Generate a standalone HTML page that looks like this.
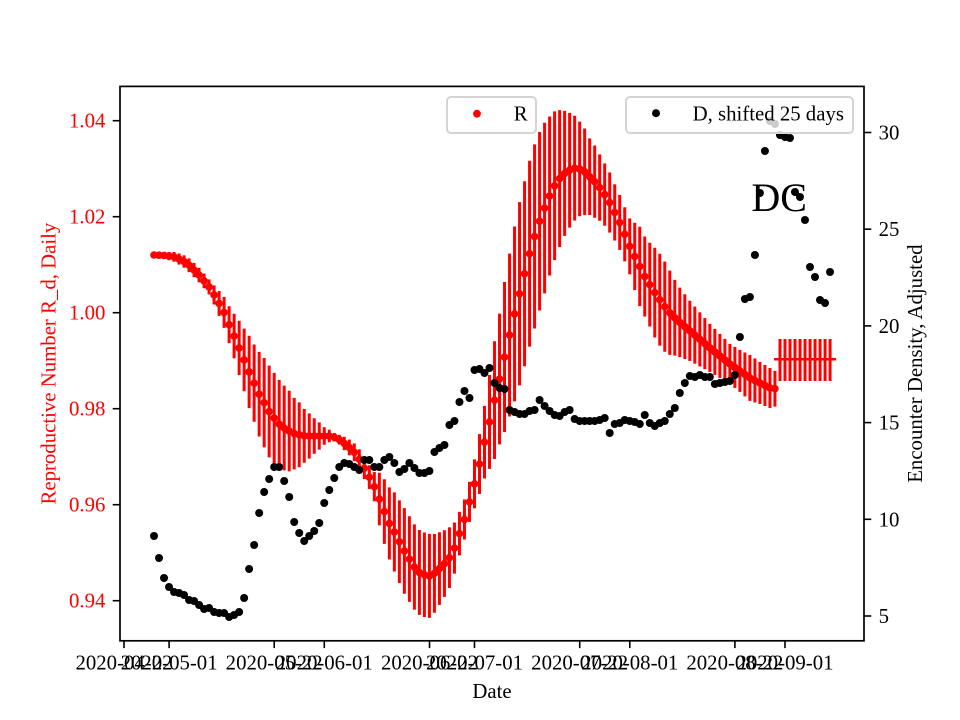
<!DOCTYPE html>
<html>
<head>
<meta charset="utf-8">
<style>
html,body{margin:0;padding:0;background:#fff;}
svg{display:block;}
text{font-family:"Liberation Serif","DejaVu Serif",serif;font-size:20.8px;}
</style>
</head>
<body>
<svg id="chart" width="960" height="720" viewBox="0 0 960 720" xmlns="http://www.w3.org/2000/svg">
<rect x="0" y="0" width="960" height="720" fill="#ffffff"/>

<!-- red series (left axis) -->
<g id="redbars" stroke="#ff0000" stroke-width="3"></g>
<g id="reddots" fill="#ff0000"></g>
<g id="flat" stroke="#ff0000">
  <line x1="774" y1="359.3" x2="836" y2="359.3" stroke-width="2.5"/>
</g>

<!-- legend R (belongs to left axis) -->
<rect x="447" y="97" width="89" height="36" rx="4" ry="4" fill="#ffffff" fill-opacity="0.8" stroke="#d4d4d4" stroke-width="2"/>
<circle cx="477" cy="113.7" r="3.9" fill="#ff0000"/>
<text x="513.7" y="120.5" fill="#000">R</text>

<!-- black series (right axis) -->
<g id="blackdots" fill="#000000"></g>

<!-- legend D -->
<rect x="626" y="97" width="227" height="36" rx="4" ry="4" fill="#ffffff" fill-opacity="0.8" stroke="#d4d4d4" stroke-width="2"/>
<circle cx="656" cy="113.2" r="4" fill="#000"/>
<text x="692.6" y="120.5" fill="#000">D, shifted 25 days</text>

<!-- title -->
<text x="779.2" y="211" text-anchor="middle" style="font-size:40px" fill="#000">DC</text>

<!-- spines -->
<rect x="120" y="86.4" width="744" height="554.4" fill="none" stroke="#000" stroke-width="1.7"/>

<!-- x ticks -->
<g stroke="#000" stroke-width="1.6">
  <line x1="124" y1="640.8" x2="124" y2="648.1"/>
  <line x1="169.1" y1="640.8" x2="169.1" y2="648.1"/>
  <line x1="274.2" y1="640.8" x2="274.2" y2="648.1"/>
  <line x1="324.3" y1="640.8" x2="324.3" y2="648.1"/>
  <line x1="429.5" y1="640.8" x2="429.5" y2="648.1"/>
  <line x1="474.5" y1="640.8" x2="474.5" y2="648.1"/>
  <line x1="579.7" y1="640.8" x2="579.7" y2="648.1"/>
  <line x1="629.8" y1="640.8" x2="629.8" y2="648.1"/>
  <line x1="734.9" y1="640.8" x2="734.9" y2="648.1"/>
  <line x1="785" y1="640.8" x2="785" y2="648.1"/>
</g>
<g fill="#000" text-anchor="middle">
  <text x="124" y="669.6">2020-04-22</text>
  <text x="169.1" y="669.6">2020-05-01</text>
  <text x="274.2" y="669.6">2020-05-22</text>
  <text x="324.3" y="669.6">2020-06-01</text>
  <text x="429.5" y="669.6">2020-06-22</text>
  <text x="474.5" y="669.6">2020-07-01</text>
  <text x="579.7" y="669.6">2020-07-22</text>
  <text x="629.8" y="669.6">2020-08-01</text>
  <text x="734.9" y="669.6">2020-08-22</text>
  <text x="785" y="669.6">2020-09-01</text>
  <text x="492" y="698">Date</text>
</g>

<!-- left y ticks -->
<g stroke="#000" stroke-width="1.6">
  <line x1="112.7" y1="120.7" x2="120" y2="120.7"/>
  <line x1="112.7" y1="216.7" x2="120" y2="216.7"/>
  <line x1="112.7" y1="312.7" x2="120" y2="312.7"/>
  <line x1="112.7" y1="408.7" x2="120" y2="408.7"/>
  <line x1="112.7" y1="504.7" x2="120" y2="504.7"/>
  <line x1="112.7" y1="600.7" x2="120" y2="600.7"/>
</g>
<g fill="#ff0000" text-anchor="end">
  <text x="105.4" y="127.7">1.04</text>
  <text x="105.4" y="223.7">1.02</text>
  <text x="105.4" y="319.7">1.00</text>
  <text x="105.4" y="415.7">0.98</text>
  <text x="105.4" y="511.7">0.96</text>
  <text x="105.4" y="607.7">0.94</text>
</g>
<text transform="translate(55.5,363.6) rotate(-90)" text-anchor="middle" fill="#ff0000">Reproductive Number R_d, Daily</text>

<!-- right y ticks -->
<g stroke="#000" stroke-width="1.6">
  <line x1="864" y1="616" x2="871.3" y2="616"/>
  <line x1="864" y1="519.3" x2="871.3" y2="519.3"/>
  <line x1="864" y1="422.6" x2="871.3" y2="422.6"/>
  <line x1="864" y1="325.9" x2="871.3" y2="325.9"/>
  <line x1="864" y1="229.2" x2="871.3" y2="229.2"/>
  <line x1="864" y1="132.5" x2="871.3" y2="132.5"/>
</g>
<g fill="#000" text-anchor="start">
  <text x="878.6" y="623">5</text>
  <text x="878.6" y="526.3">10</text>
  <text x="878.6" y="429.6">15</text>
  <text x="878.6" y="332.9">20</text>
  <text x="878.6" y="236.2">25</text>
  <text x="878.6" y="139.5">30</text>
</g>
<text transform="translate(922,363.6) rotate(-90)" text-anchor="middle" fill="#000">Encounter Density, Adjusted</text>
</svg>

<script>
(function(){
var C=[[154,255],[165,255.5],[175,257],[185,262],[190,266],[200,276],[210,288],[220,305],[225,314],[230,327],[235,338],[240,350],[245,362],[250,374],[255,385],[260,396],[265,404],[270,413],[275,419],[280,425],[287,430],[295,434],[305,436],[320,436],[330,436],[337,438],[345,444],[350,448],[357,455],[362,464],[367,473],[372,482],[377,492],[381,504],[385,513],[390,525],[395,533],[400,543],[405,552],[410,560],[415,568],[420,573],[425,575],[430,576],[435,573],[440,568],[445,563],[450,557],[455,547],[460,532],[465,518],[470,500],[475,482],[480,462],[485,440],[490,420],[495,398],[500,377],[505,355],[510,333],[515,312],[520,292],[525,272],[530,252],[535,235],[540,220],[545,207],[550,195],[555,185],[560,178],[565,173],[570,170],[575,168],[580,169],[585,172],[590,177],[595,182],[600,188],[605,195],[610,203],[615,213],[620,223],[625,235],[630,247],[635,257],[640,267],[645,277],[650,285],[655,293],[660,300],[665,307],[670,313],[677,320],[690,331],[710,348],[730,364],[740,371],[750,378],[760,383],[770,388],[777,389]];
var H=[[154,2],[175,5],[190,7],[210,7.5],[215,10],[220,13],[225,16],[230,19],[235,23],[240,28],[245,32],[250,37],[255,39],[260,43],[265,45],[270,46],[280,44],[290,40],[295,35],[300,32],[305,26],[310,22],[315,17],[320,13],[325,8],[335,4],[340,5],[345,7],[355,9],[360,10],[365,11],[370,12],[375,15],[380,28],[385,33],[395,40],[405,43],[430,42],[440,36],[450,30],[455,25],[462,20],[470,20],[478,28],[485,37],[490,48],[495,60],[500,66],[505,76],[515,88],[520,92],[530,93],[535,92],[540,89],[545,85],[550,79],[555,74],[560,68],[565,62],[570,57],[575,52],[580,47],[585,43],[590,38],[595,36],[600,33],[605,31],[610,30],[615,28],[625,27],[630,28],[635,34],[640,40],[645,40],[650,42],[655,45],[660,46],[665,45],[670,42],[677,36],[690,30],[710,24],[730,20],[740,21],[750,23],[760,21],[770,20],[777,17]];
var B=[536,558,578,587,592,593,595,600,601,605,609,608,612,613,613,617,615,612,598,569,545,513,492,479,467,467,481,497,522,533,541,536,531,523,503,490,478,467,463,464,467,470,460,460,467,467,460,457,463,472,469,463,468,473,473,471,452,448,445,425,421,402,391,398,370,369,373,368,383,388,389,410,412,414,414,411,410,400,406,411,415,416,412,410,419,421,421,421,421,420,418,433,424,423,420,421,422,424,415,423,426,423,421,414,408,393,383,376,377,375,377,377,384,383,382,381,375,337,299,297,255,193,151,121,124,135,137,138,192,197,220,267,277,300,303,272];
function interp(a,x){
  if(x<=a[0][0]) return a[0][1];
  for(var i=1;i<a.length;i++){
    if(x<=a[i][0]){var x0=a[i-1][0],y0=a[i-1][1],x1=a[i][0],y1=a[i][1];return y0+(y1-y0)*(x-x0)/(x1-x0);}
  }
  return a[a.length-1][1];
}
var bars='',dots='';
for(var j=0;j<125;j++){
  var x=154+5.0076*j;
  var y=interp(C,x), h=interp(H,x);
  bars+='<line x1="'+x.toFixed(2)+'" y1="'+(y-h).toFixed(2)+'" x2="'+x.toFixed(2)+'" y2="'+(y+h).toFixed(2)+'"/>';
  dots+='<circle cx="'+x.toFixed(2)+'" cy="'+y.toFixed(2)+'" r="3.8"/>';
}
document.getElementById('redbars').innerHTML=bars;
document.getElementById('reddots').innerHTML=dots;
var fl='<line x1="774" y1="359.3" x2="836" y2="359.3" stroke-width="2.5"/>';
for(var k=0;k<11;k++){
  var fx=780+5.0076*k;
  fl+='<line x1="'+fx.toFixed(2)+'" y1="339" x2="'+fx.toFixed(2)+'" y2="381" stroke-width="3"/>';
}
document.getElementById('flat').innerHTML=fl;
var bd='';
for(var i=0;i<B.length;i++){
  var bx=154+5.0076*i;
  bd+='<circle cx="'+bx.toFixed(2)+'" cy="'+B[i]+'" r="4"/>';
}
document.getElementById('blackdots').innerHTML=bd;
})();
</script>
</body>
</html>
